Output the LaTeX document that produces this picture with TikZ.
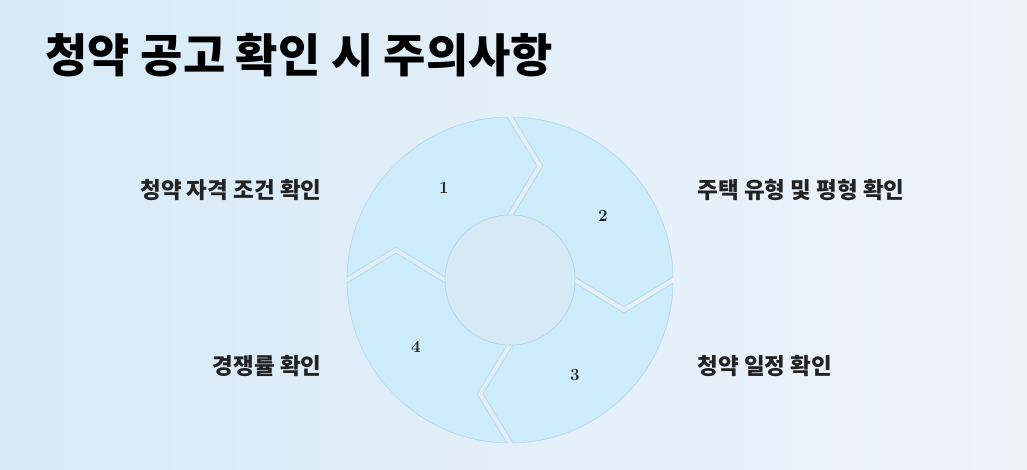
\documentclass[tikz,border=0pt]{standalone}
\usepackage{fontspec}
\newfontfamily\kr{Noto Sans CJK KR}
\usetikzlibrary{calc}
\definecolor{segfill}{HTML}{CCEBFB}
\definecolor{segline}{HTML}{B3D6EA}
\definecolor{hub}{HTML}{D6EAF6}
\definecolor{bgl}{HTML}{D6EAF7}
\definecolor{bgr}{HTML}{EEF3FA}
\definecolor{txt}{HTML}{222222}
\tikzset{
 seg/.style={fill=segfill,draw=segline,line width=0.6pt,line join=round},
 num/.style={font=\bfseries\fontsize{17}{19}\selectfont,text=txt},
 lab/.style={font=\kr\bfseries\fontsize{22.5}{25}\selectfont,text=txt},
}
\newcommand{\segpath}[2]{% start angle, end angle
 \path[seg] ($(C)+(#1-1.05:163)$) arc[start angle=#1-1.05,end angle=#2+1.05,radius=163]
   -- ($(C)+(#2:114)+(#2-90:27)$)
   -- ($(C)+(#2+2.6:65)$) arc[start angle=#2+2.6,end angle=#1-2.6,radius=65]
   -- ($(C)+(#1:114)+(#1-90:33)$) -- cycle;}
\begin{document}
\begin{tikzpicture}[x=1pt,y=1pt]
\useasboundingbox (0,0) rectangle (1027,469);
\shade[left color=bgl,right color=bgr] (0,0) rectangle (1027,469);
\coordinate (C) at (510,189);
\segpath{180}{90}
\segpath{90}{0}
\segpath{0}{-90}
\segpath{-90}{-180}
\node[circle,minimum size=130pt,inner sep=0pt,fill=hub,draw=segline,line width=0.6pt] (hubc) at (C) {};
\node[num] (n1) at (444,281) {1};
\node[num] (n2) at (603,253) {2};
\node[num] (n3) at (575,94) {3};
\node[num] (n4) at (416,122) {4};
\node[lab,anchor=east] (l1) at (325,279) {청약 자격 조건 확인};
\node[lab,anchor=west] (l2) at (694,279) {주택 유형 및 평형 확인};
\node[lab,anchor=east] (l4) at (325,103) {경쟁률 확인};
\node[lab,anchor=west] (l3) at (694,103) {청약 일정 확인};
\node[anchor=west,font=\kr\bfseries\fontsize{46}{51}\selectfont,text=black] (title) at (42,414) {청약 공고 확인 시 주의사항};
\end{tikzpicture}
\end{document}
